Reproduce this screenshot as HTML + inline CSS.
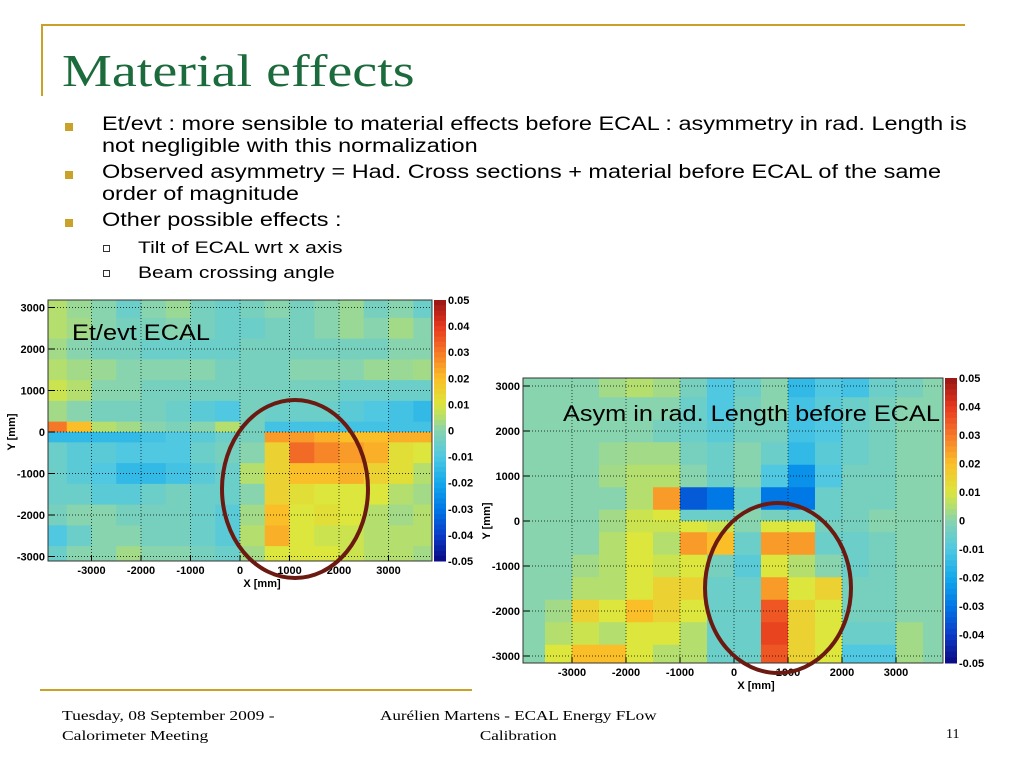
<!DOCTYPE html>
<html><head><meta charset="utf-8"><style>
html,body{margin:0;padding:0;background:#fff;}
body{width:1024px;height:768px;position:relative;overflow:hidden;font-family:"Liberation Sans",sans-serif;}
.t{position:absolute;white-space:nowrap;transform-origin:0 0;}
</style></head><body>
<div style="position:absolute;left:42px;top:24px;width:923px;height:2px;background:#c9a227"></div>
<div style="position:absolute;left:41px;top:24px;width:2px;height:72px;background:#c9a227"></div>
<div class="t" style="left:62px;top:44px;font-family:'Liberation Serif',serif;font-size:46px;color:#1b6b3c;transform:scaleX(1.22)">Material effects</div>
<div style="position:absolute;left:0;top:0">
<div style="position:absolute;left:65px;top:123px;width:8px;height:8px;background:#c9a227"></div>
<div class="t" style="left:102px;top:114px;font-size:19px;line-height:22px;transform:scaleX(1.235)">Et/evt : more sensible to material effects before ECAL : asymmetry in rad. Length is<br>not negligible with this normalization</div>
<div style="position:absolute;left:65px;top:171px;width:8px;height:8px;background:#c9a227"></div>
<div class="t" style="left:102px;top:162px;font-size:19px;line-height:22px;transform:scaleX(1.235)">Observed asymmetry = Had. Cross sections + material before ECAL of the same<br>order of magnitude</div>
<div style="position:absolute;left:65px;top:219px;width:8px;height:8px;background:#c9a227"></div>
<div class="t" style="left:102px;top:210px;font-size:19px;line-height:22px;transform:scaleX(1.235)">Other possible effects :</div>
<div style="position:absolute;left:103px;top:245px;width:5px;height:5px;border:1px solid #333"></div>
<div class="t" style="left:138px;top:238px;font-size:17px;transform:scaleX(1.24)">Tilt of ECAL wrt x axis</div>
<div style="position:absolute;left:103px;top:270px;width:5px;height:5px;border:1px solid #333"></div>
<div class="t" style="left:138px;top:263px;font-size:17px;transform:scaleX(1.24)">Beam crossing angle</div>
</div>
<svg id="svg" width="1024" height="768" style="position:absolute;left:0;top:0" xmlns="http://www.w3.org/2000/svg"></svg>
<div style="position:absolute;left:40px;top:689px;width:432px;height:2px;background:#c9a227"></div>
<div class="t" style="left:62px;top:707px;font-family:'Liberation Serif',serif;font-size:14px;line-height:20px;transform:scaleX(1.25)">Tuesday, 08 September 2009 -<br>Calorimeter Meeting</div>
<div class="t" style="left:380px;top:707px;font-family:'Liberation Serif',serif;font-size:14px;line-height:20px;text-align:center;transform:scaleX(1.22)">Aurélien Martens - ECAL Energy FLow<br>Calibration</div>
<div class="t" style="left:946px;top:727px;font-family:'Liberation Serif',serif;font-size:14px">11</div>
<script>
// bin edges in mm
const xBinEdges=[-4000,-3500,-3000,-2500,-2000,-1500,-1000,-500,0,500,1000,1500,2000,2500,3000,3500,4000];
const yBinEdges=[3250,2750,2250,1750,1250,750,250,0,-250,-750,-1250,-1750,-2250,-2750,-3250];
const xTicks=[-3000,-2000,-1000,0,1000,2000,3000];
const yTicks=[3000,2000,1000,0,-1000,-2000,-3000];
const zTicks=[0.05,0.04,0.03,0.02,0.01,0,-0.01,-0.02,-0.03,-0.04,-0.05];
const zTickLabels=["0.05","0.04","0.03","0.02","0.01","0","-0.01","-0.02","-0.03","-0.04","-0.05"];
// Et/evt ECAL values (thousandths)
const leftValuesMilli=[
[5,2,0,-5,0,2,-3,-5,-3,0,-3,0,2,-3,0,-5],
[5,3,0,-3,-2,0,-3,-5,-5,-3,-3,0,2,0,3,0],
[3,0,-3,-3,-5,-5,-5,-5,-3,-3,-3,-3,-3,-3,0,0],
[5,3,2,0,0,0,0,-3,-3,-3,0,0,0,2,2,3],
[8,5,0,0,-3,-3,-3,-3,-3,-3,-3,-3,-5,-5,-5,-5],
[3,0,-3,-3,-3,-5,-8,-10,-3,-5,-5,-5,-8,-10,-12,-15],
[30,20,5,3,0,-2,0,5,-3,-12,-12,-12,-12,-12,-12,-12],
[-15,-15,-15,-15,-12,-10,-8,-5,-3,25,25,22,20,20,22,22],
[-5,-8,-8,-10,-10,-10,-5,-3,0,15,32,28,25,22,12,10],
[-5,-8,-10,-15,-15,-12,-8,-5,5,15,20,20,22,15,12,5],
[-5,-5,-8,-8,-5,-3,-5,-5,0,15,12,10,10,10,5,3],
[-3,0,0,-3,-3,-3,-5,-8,3,20,10,12,10,5,3,5],
[-10,-5,0,0,-3,-3,-5,-8,5,22,10,8,8,5,5,5],
[-5,0,0,3,0,0,-3,-5,3,10,10,10,8,5,5,3]];
// Asym in rad. length values (thousandths)
const rightValuesMilli=[
[0,0,0,3,5,3,-3,-10,-5,0,-15,-10,-12,-5,-3,0],
[0,0,0,0,0,0,-5,-10,-3,0,-12,-8,-5,-3,0,0],
[0,0,0,0,0,-3,-5,-8,-3,-3,-12,-10,-5,-3,0,0],
[0,0,0,2,3,3,-3,-5,0,-5,-15,-8,-5,-3,0,0],
[0,0,0,3,5,5,0,-5,0,-10,-25,-10,-3,-3,0,0],
[0,0,0,0,5,25,-35,-30,-5,-30,-30,-5,-3,-3,0,0],
[0,0,0,3,8,10,-5,-5,0,-3,-5,-5,-3,0,0,0],
[0,0,0,3,8,8,10,8,0,10,10,-3,-3,0,0,0],
[0,0,0,5,10,5,25,20,-5,25,25,-5,-5,-3,0,0],
[0,0,3,5,10,8,10,-3,-8,10,5,0,-5,-3,0,0],
[0,0,5,5,10,15,15,-5,-5,25,10,15,-3,-3,0,0],
[0,3,15,10,20,15,10,-5,-5,35,15,10,-3,-3,0,0],
[0,5,8,5,10,10,5,-5,-5,38,15,10,-5,-5,3,0],
[0,10,20,20,10,5,5,-5,-5,35,15,10,-10,-10,3,0]];

const NS="http://www.w3.org/2000/svg";
const svg=document.getElementById('svg');
const stops=[[-0.05,[10,10,130]],[-0.04,[10,60,200]],[-0.03,[0,120,230]],[-0.02,[20,170,235]],[-0.01,[80,200,225]],[0,[135,212,175]],[0.005,[180,222,110]],[0.01,[220,230,60]],[0.02,[250,190,40]],[0.03,[245,120,40]],[0.04,[230,55,30]],[0.05,[150,20,20]]];
function color(v){
  v=Math.max(-0.05,Math.min(0.05,v));
  for(let i=0;i<stops.length-1;i++){
    const a=stops[i],b=stops[i+1];
    if(v<=b[0]){const t=(v-a[0])/(b[0]-a[0]);
      const c=a[1].map((x,k)=>Math.round(x+(b[1][k]-x)*t));return `rgb(${c})`;}
  }
  return 'rgb(150,20,20)';
}
function mk(tag,attrs,parent){const e=document.createElementNS(NS,tag);for(const k in attrs)e.setAttribute(k,attrs[k]);(parent||svg).appendChild(e);return e;}

function plot(o){
  const g=mk('g',{});
  
  
  const X=mm=>o.x0+mm*o.kx, Y=mm=>o.y0-mm*o.ky;
  const cid=o.name+'-clip';
  const cp=mk('clipPath',{id:cid},g);
  mk('rect',{x:o.l,y:o.t,width:o.r-o.l,height:o.b-o.t},cp);
  const cells=mk('g',{'clip-path':`url(#${cid})`},g);
  o.vals.forEach((row,i)=>row.forEach((v,j)=>{
    const x1=X(xBinEdges[j]),x2=X(xBinEdges[j+1]),y1=Y(yBinEdges[i]),y2=Y(yBinEdges[i+1]);
    const c=mk('rect',{x:x1,y:y1,width:x2-x1+0.5,height:y2-y1+0.5,fill:color(v/1000)},cells);
    
    
  }));
  xTicks.forEach(t=>{const x=X(t);
    mk('line',{x1:x,y1:o.t,x2:x,y2:o.b,stroke:'#000','stroke-width':0.7,'stroke-dasharray':'1,2'},g);
    mk('line',{x1:x,y1:o.b,x2:x,y2:o.b-6,stroke:'#000'},g);
    const tx=mk('text',{x:x,y:o.b+13,'text-anchor':'middle','font-size':11,'font-weight':'bold','font-family':'Liberation Sans'},g);
    tx.textContent=t;
    
    
  });
  yTicks.forEach(t=>{const y=Y(t);
    mk('line',{x1:o.l,y1:y,x2:o.r,y2:y,stroke:'#000','stroke-width':0.7,'stroke-dasharray':'1,2'},g);
    mk('line',{x1:o.l,y1:y,x2:o.l+7,y2:y,stroke:'#000'},g);
    const tx=mk('text',{x:o.l-3,y:y+4,'text-anchor':'end','font-size':11,'font-weight':'bold','font-family':'Liberation Sans'},g);
    tx.textContent=t;
    
    
  });
  mk('rect',{x:o.l,y:o.t,width:o.r-o.l,height:o.b-o.t,fill:'none',stroke:'#333','stroke-width':1},g);
  const xt=mk('text',{x:X(0)+22,y:o.b+26,'text-anchor':'middle','font-size':11,'font-weight':'bold','font-family':'Liberation Sans'},g);
  xt.textContent='X [mm]';
  
  
  const yx=o.l-33, yy=Y(0);
  const yt=mk('text',{x:yx,y:yy,transform:`rotate(-90 ${yx} ${yy})`,'text-anchor':'middle','font-size':11,'font-weight':'bold','font-family':'Liberation Sans'},g);
  yt.textContent='Y [mm]';
  
  
  const Z=z=>o.t+(0.05-z)/0.1*(o.b-o.t);
  const cb=mk('g',{},g);
  
  
  for(let k=0;k<50;k++){const z1=0.05-k*0.002;
    mk('rect',{x:o.r+2,y:Z(z1),width:12,height:(o.b-o.t)/50+0.5,fill:color(z1-0.001)},cb);}
  zTicks.forEach((z,i)=>{
    const tx=mk('text',{x:o.r+16,y:Z(z)+4,'font-size':11,'font-weight':'bold','font-family':'Liberation Sans'},cb);
    tx.textContent=zTickLabels[i];
    
    
  });
  const lab=mk('text',{x:o.labx,y:o.laby,'font-size':22,'font-family':'Liberation Sans',textLength:o.labw,lengthAdjust:'spacingAndGlyphs'},g);
  lab.textContent=o.label;
  
  
  const el=mk('ellipse',{cx:o.ex,cy:o.ey,rx:o.erx,ry:o.ery,fill:'none',stroke:'#6b1a12','stroke-width':4},g);
  
  
}
plot({name:'left-heatmap',vals:leftValuesMilli,l:48,r:432,t:300,b:561,x0:240,kx:0.0495,y0:432,ky:0.0415,label:'Et/evt ECAL',labx:72,laby:340,labw:138,ex:295,ey:489,erx:73,ery:89});
plot({name:'right-heatmap',vals:rightValuesMilli,l:523,r:943,t:378,b:663,x0:734,kx:0.054,y0:521,ky:0.045,label:'Asym in rad. Length before ECAL',labx:563,laby:421,labw:377,ex:778,ey:588,erx:73,ery:85});
</script>
</body></html>
